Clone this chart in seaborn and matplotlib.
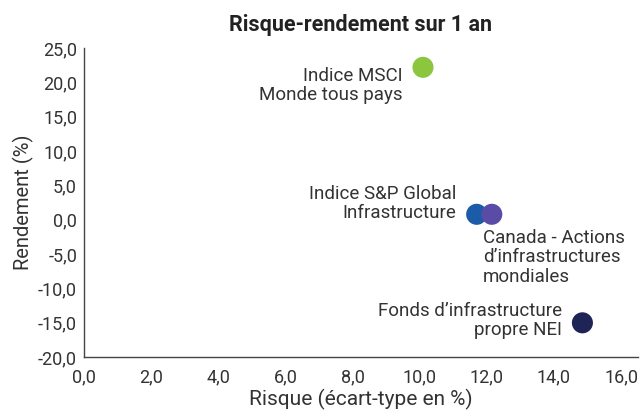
import matplotlib
matplotlib.use("Agg")
import matplotlib.pyplot as plt
import seaborn as sns
import pandas as pd
from matplotlib.ticker import FuncFormatter

names = ["Indice MSCI\nMonde tous pays", "Indice S&P Global\nInfrastructure",
         "Canada - Actions\nd\u2019infrastructures\nmondiales",
         "Fonds d\u2019infrastructure\npropre NEI"]
risk = [10.1, 11.7, 12.15, 14.85]
ret = [22.2, 0.8, 0.8, -15.0]
colors = ["#8cc63e", "#1c5ba8", "#5a4ca6", "#1e2455"]

sns.set_style("white")
plt.rcParams["font.family"] = ["Roboto", "DejaVu Sans"]

df = pd.DataFrame({"risk": risk, "ret": ret, "name": names})

fig = plt.figure(figsize=(6.41, 4.11), dpi=100)
ax = fig.add_axes([0.131, 0.131, 0.864, 0.752])
sns.scatterplot(data=df, x="risk", y="ret", hue="name", palette=colors,
                s=230, edgecolor="none", legend=False, ax=ax, zorder=3)

# label placement (pixels offset from the point)
offsets = [(-20, -18, "right", "center"), (-20, 11, "right", "center"),
           (-9, -15, "left", "top"), (-20, 2, "right", "center")]
for (x, y, lab), (dx, dy, ha, va) in zip(zip(risk, ret, names), offsets):
    ax.annotate(lab, (x, y), xytext=(dx, dy), textcoords="offset pixels",
                ha=ha, va=va, multialignment=ha, fontsize=13.5, color="#333333",
                linespacing=1.08)

ax.set_xlim(0, 16.5)
ax.set_ylim(-20, 25)
ax.set_xticks(range(0, 17, 2))
ax.set_yticks(range(-20, 26, 5))
fmt = FuncFormatter(lambda v, p: f"{v:.1f}".replace(".", ","))
ax.xaxis.set_major_formatter(fmt)
ax.yaxis.set_major_formatter(fmt)
ax.tick_params(labelsize=13, colors="#333333", length=0)
ax.tick_params(axis="x", pad=8)
ax.tick_params(axis="y", pad=5)
for s in ["top", "right"]:
    ax.spines[s].set_visible(False)
for s in ["left", "bottom"]:
    ax.spines[s].set_color("#444444")
    ax.spines[s].set_linewidth(1)

ax.set_xlabel("Risque (\u00e9cart-type en %)", fontsize=15, color="#333333", labelpad=2)
ax.set_ylabel("Rendement (%)", fontsize=14.5, color="#333333", labelpad=3)
ax.set_title("Risque-rendement sur 1 an", fontsize=15.5, fontweight="bold",
             color="#222222", pad=12)

fig.savefig("out.png", dpi=100)
